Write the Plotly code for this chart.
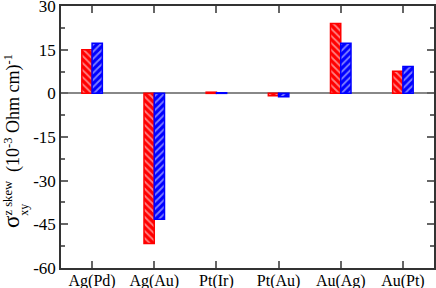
import plotly.graph_objects as go

categories = ["Ag(Pd)", "Ag(Au)", "Pt(Ir)", "Pt(Au)", "Au(Ag)", "Au(Pt)"]
red_values = [15.0, -51.6, 0.4, -0.8, 24.0, 7.6]
blue_values = [17.2, -43.3, 0.2, -1.2, 17.2, 9.2]
y_ticks = [-60, -45, -30, -15, 0, 15, 30]

font_family = "Liberation Serif, Times New Roman, serif"

fig = go.Figure()
fig.add_trace(go.Bar(
    x=categories, y=red_values, name="red",
    marker=dict(color="#ff0000",
                line=dict(color="#ff0000", width=1.5),
                pattern=dict(shape="\\", fgcolor="white", bgcolor="#ff0000",
                             size=5, solidity=0.35, fillmode="overlay")),
))
fig.add_trace(go.Bar(
    x=categories, y=blue_values, name="blue",
    marker=dict(color="#0000ff",
                line=dict(color="#0000ff", width=1.5),
                pattern=dict(shape="/", fgcolor="white", bgcolor="#0000ff",
                             size=5, solidity=0.35, fillmode="overlay")),
))

fig.update_layout(
    width=436, height=288,
    margin=dict(l=61, r=2, t=6, b=20),
    paper_bgcolor="white", plot_bgcolor="white",
    barmode="group", bargap=0.67, bargroupgap=0,
    showlegend=False,
    font=dict(family=font_family, size=16, color="black"),
    xaxis=dict(
        type="category", range=[-0.5, 5.5], automargin=False,
        showline=True, linecolor="#333", linewidth=1.5, mirror="ticks",
        ticks="inside", ticklen=7, tickcolor="#666", tickwidth=1.5,
        showgrid=False, zeroline=False,
        tickfont=dict(family=font_family, size=16, color="black"),
        ticklabelstandoff=-3, ticklabeloverflow="allow",
    ),
    yaxis=dict(
        range=[-60.02, 30.02], tickvals=y_ticks, automargin=False,
        ticktext=[str(v) for v in y_ticks],
        showline=True, linecolor="#333", linewidth=1.5, mirror="ticks",
        ticks="inside", ticklen=7, tickcolor="#666", tickwidth=1.5,
        minor=dict(dtick=7.5, tick0=0, ticks="inside", ticklen=4,
                   tickcolor="#666", tickwidth=1.5, showgrid=False),
        showgrid=False,
        zeroline=True, zerolinecolor="#888", zerolinewidth=1.5,
        tickfont=dict(family=font_family, size=17, color="black"),
        ticklabeloverflow="allow",
    ),
)

# y-axis title, built from text annotations so that the super/subscripts stack
fig.add_annotation(
    xref="paper", yref="paper", x=0, y=0.485, xshift=-49,
    xanchor="center", yanchor="middle", textangle=-90, showarrow=False,
    text="<span style='font-size:23px'>σ</span><sup>z skew</sup>  (10<sup>-3</sup> Ohm cm)<sup>-1</sup>",
    font=dict(family=font_family, size=18, color="black"),
)
fig.add_annotation(
    xref="paper", yref="paper", x=0, y=0.222, xshift=-37,
    xanchor="center", yanchor="middle", textangle=-90, showarrow=False,
    text="xy",
    font=dict(family=font_family, size=12, color="black"),
)

fig.write_html(
    "out.html",
    config={"displayModeBar": False},
    post_script="document.body.style.margin='0';document.body.style.overflow='hidden';",
)
